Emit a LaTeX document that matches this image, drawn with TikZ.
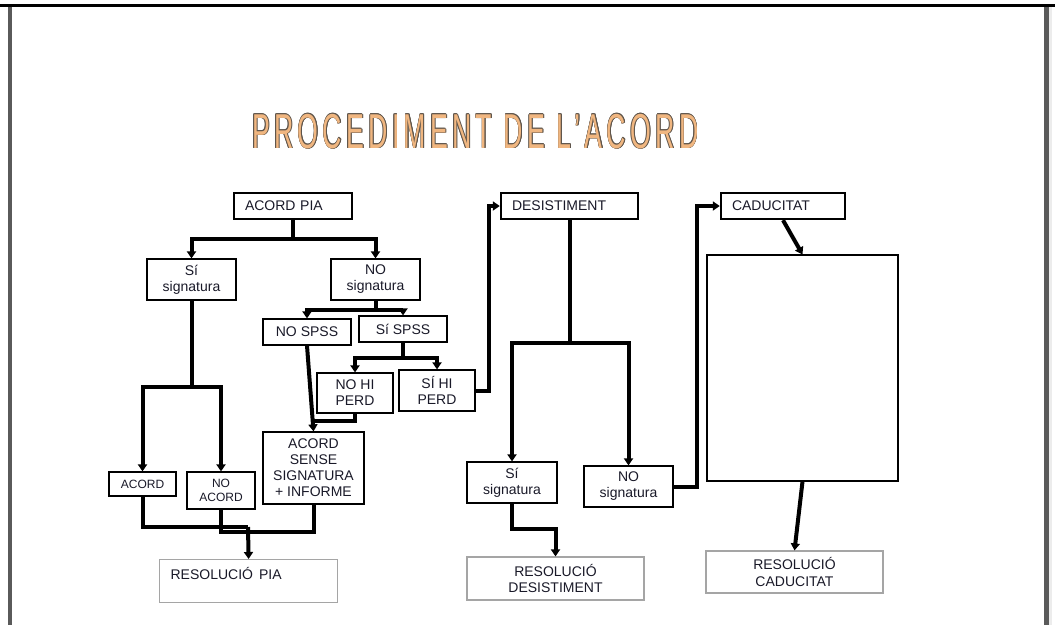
\documentclass[tikz,border=0pt]{standalone}
\usepackage{graphicx}
\usepackage{fontspec}
\setmainfont{Liberation Sans}
\newfontfamily\titlefont[LetterSpace=16]{Liberation Sans}
\usetikzlibrary{arrows.meta}
\definecolor{txt}{RGB}{25,25,40}
\definecolor{titlefill}{RGB}{240,182,128}
\definecolor{titleline}{RGB}{95,85,75}
\definecolor{frameg}{RGB}{90,90,90}
\definecolor{resg}{RGB}{165,165,165}
\tikzset{
  base/.style={inner sep=0pt, text=txt, font=\fontsize{14}{16}\selectfont},
  box/.style={base, draw=black, line width=1.2pt, align=center},
  smallbox/.style={box, font=\fontsize{12}{14}\selectfont},
  headbox/.style={base, draw=black, line width=2.4pt, inner xsep=11pt, align=left, minimum height=26pt},
  resbox/.style={base, draw=resg, line width=1.2pt, align=center},
  conn/.style={line width=4pt, draw=black},
  arr/.style={conn, -{Triangle[length=7pt,width=9pt]}},
  titletext/.style={inner sep=0pt, anchor=base west, font=\titlefont\fontsize{49}{49}\selectfont},
}
\newcommand{\titlestr}{\scalebox{0.545}[1]{PROCEDIMENT DE L’ACORD}}
\begin{document}
\begin{tikzpicture}[x=1pt,y=-1pt]
\useasboundingbox (0,0) rectangle (1055,625);
% frame
\fill[black] (0,4) rectangle (1055,7);
\fill[frameg] (8,7) rectangle (12,625);
\fill[frameg] (1044,7) rectangle (1049,625);
\fill[gray!15] (1049,7) rectangle (1052,625);

% title
\foreach \dx/\dy [count=\i] in {-0.6/0,0.6/0,0/-0.6,0/0.6,-0.45/-0.45,0.45/0.45,-0.45/0.45,0.45/-0.45,0.9/0.9}{
  \node[titletext, text=titleline] (ts\i) at (252+\dx,148+\dy) {\titlestr};
}
\node[titletext, text=titlefill] (title) at (252,148) {\titlestr};

% header boxes
\node[headbox, text width=96pt] (acordpia) at (293,206) {ACORD PIA};
\node[headbox, text width=115pt] (desist) at (569.5,206) {DESISTIMENT};
\node[headbox, text width=102pt] (caduc) at (783,206) {CADUCITAT};

% left part
\node[box, minimum width=89pt, minimum height=41pt] (sisig) at (191.5,279.5) {Sí\\signatura};
\node[box, minimum width=89pt, minimum height=41pt] (nosig) at (375.5,279.5) {NO\\signatura};
\node[box, minimum width=88pt, minimum height=26pt] (nospss) at (307,332) {NO SPSS};
\node[box, minimum width=88pt, minimum height=26pt] (sispss) at (403,329) {Sí SPSS};
\node[box, minimum width=76pt, minimum height=40pt] (nohi) at (355,393) {NO HI\\PERD};
\node[box, minimum width=76pt, minimum height=41pt] (sihi) at (437,390.5) {SÍ HI\\PERD};
\node[box, minimum width=101pt, minimum height=72pt] (sense) at (313.5,468) {ACORD\\SENSE\\SIGNATURA\\+ INFORME};
\node[smallbox, minimum width=67pt, minimum height=24pt] (acord) at (142.5,484) {ACORD};
\node[smallbox, minimum width=68pt, minimum height=37pt] (noacord) at (221,490.5) {NO\\ACORD};
\node[base, draw=resg, line width=1.2pt, anchor=north west, align=left, inner xsep=11pt, text width=156pt, text height=20pt, text depth=23pt] (respia) at (159,559) {RESOLUCIÓ\hspace{6pt}PIA};

% middle part
\node[box, minimum width=90pt, minimum height=41pt] (sisig2) at (512,482.5) {Sí\\signatura};
\node[box, minimum width=89pt, minimum height=41pt] (nosig2) at (628.5,486.5) {NO\\signatura};
\node[resbox, minimum width=177pt, minimum height=43pt] (resdes) at (555.5,578.5) {RESOLUCIÓ\\DESISTIMENT};

% right part
\node[box, minimum width=191pt, minimum height=226pt] (bigbox) at (802.5,368) {};
\node[resbox, minimum width=177pt, minimum height=42pt, font=\fontsize{14}{17}\selectfont] (rescad) at (794.5,572) {RESOLUCIÓ\\CADUCITAT};

% junction coordinates
\coordinate (j1) at (313,421);
\coordinate (mp) at (248,527);
\coordinate (mp2) at (248,532);

% connectors: ACORD PIA
\draw[arr] (acordpia.south) -- ++(0,19) -| (sisig.north);
\draw[arr] (acordpia.south) -- ++(0,19) -| (nosig.north);
\draw[arr] (nosig.south) -- ++(0,9.5) -| (nospss.north);
\draw[arr] (nosig.south) -- ++(0,9.5) -| (sispss.north);
\draw[arr] (sispss.south) -- ++(0,15) -| (nohi.north);
\draw[arr] (sispss.south) -- ++(0,15) -| (sihi.north);
\draw[arr] (nospss.south) -- (sense.north);
\draw[conn] (nohi.south) |- (j1);
\draw[arr] (sihi.east) -- ++(13,0) |- (desist.west);
\draw[arr] (sisig.south) -- ++(0,86) -| (acord.north);
\draw[arr] (sisig.south) -- ++(0,86) -| (noacord.north);
\draw[conn] (acord.south) |- (mp);
\draw[conn] (noacord.south) |- (mp2);
\draw[conn] (sense.south) |- (mp2);
\draw[arr] (mp) -- (respia.north);

% connectors: DESISTIMENT
\draw[arr] (desist.south) -- ++(0,123) -| (sisig2.north);
\draw[arr] (desist.south) -- ++(0,123) -| (nosig2.north);
\draw[arr] (sisig2.south) -- ++(0,25) -| (resdes.north);
\draw[arr] (nosig2.east) -- ++(23,0) |- (caduc.west);

% connectors: CADUCITAT
\draw[arr] (caduc.south) -- (bigbox.north);
\draw[arr] (bigbox.south) -- (rescad.north);
\end{tikzpicture}
\end{document}
